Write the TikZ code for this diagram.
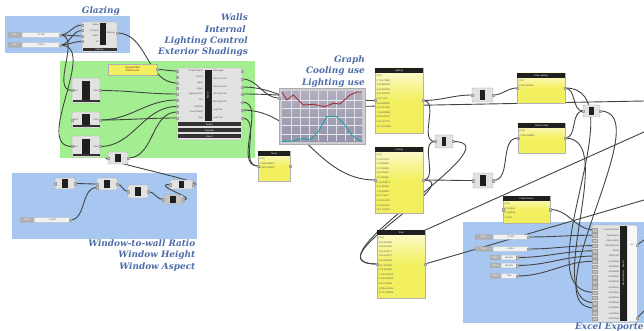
\documentclass[tikz,border=0pt]{standalone}
\usepackage{fontspec}
\newfontfamily\lblfont{DejaVu Serif}
\newfontfamily\uifont{Liberation Sans}
\pgfdeclarelayer{panels}
\pgfdeclarelayer{wires}
\pgfsetlayers{panels,wires,main}

\definecolor{paneblue}{RGB}{168,199,240}
\definecolor{panegreen}{RGB}{163,238,145}
\definecolor{noteyel}{RGB}{243,240,95}
\definecolor{grouptxt}{RGB}{78,108,168}
\definecolor{wirec}{RGB}{66,68,66}
\definecolor{compc}{RGB}{226,226,226}
\definecolor{plotc}{RGB}{150,148,170}
\definecolor{framec}{RGB}{205,205,210}
\definecolor{cooltrace}{RGB}{168,45,55}
\definecolor{lighttrace}{RGB}{35,158,165}

\newcommand\uitiny{\uifont\fontsize{2.3}{2.8}\selectfont}
\newcommand\uilist{\uifont\fontsize{2.4}{4.6}\selectfont}

\tikzset{
  grouplabel/.style={font=\lblfont\bfseries\itshape\fontsize{8.9}{10}\selectfont, text=grouptxt, inner sep=0pt},
  wire/.style={draw=wirec, line width=0.9pt},
  comp/.style={draw=gray!70, fill=compc, rounded corners=1pt, line width=0.35pt, inner sep=0pt},
  core/.style={fill=black!88, draw=none, inner sep=0pt},
  compbar/.style={fill=black!80, draw=none, inner sep=0pt, text=white, font=\uitiny},
  port/.style={fill=gray!50, draw=gray!75, line width=0.2pt, inner sep=0pt, minimum width=2.2, minimum height=2.2},
  plabel/.style={font=\uitiny, text=black!70, inner sep=0.4pt},
  notepanel/.style={draw=gray!60, line width=0.35pt, inner sep=0pt, top color=noteyel!25, bottom color=noteyel, middle color=noteyel},
  notehead/.style={fill=black!88, text=white, font=\uitiny, inner sep=0pt},
  notebody/.style={font=\uilist, text=black!65, align=left, inner sep=0pt, anchor=north west},
  sliderlab/.style={fill=gray!62, draw=gray!70, line width=0.3pt, inner sep=0pt, text=white, font=\uitiny, rounded corners=0.6pt},
  slidertrack/.style={fill=gray!10, draw=gray!55, line width=0.3pt, inner sep=0pt, rounded corners=0.8pt, font=\uitiny, text=black!75},
}

% component: [extra style] name, left, top, right, bottom
\newcommand\ghcomp[6][]{%
  \node[comp,#1, minimum width={#5-#3}, minimum height={#6-#4}] (#2) at ({(#3+#5)/2},{(#4+#6)/2}) {};
  \node[core, minimum width={(#5-#3)*0.26}, minimum height={(#6-#4)*0.74}] (#2-core) at (#2.center) {};
  \node[port] (#2-in) at (#3,{(#4+#6)/2}) {};
  \node[port] (#2-out) at (#5,{(#4+#6)/2}) {};
}
% slider: [label width] name, left, y, right, value
\newcommand\ghslider[6][13]{%
  \node[sliderlab, minimum width=#1, minimum height=4.6, anchor=west] (#2-lab) at (#3,#4) {Slider};
  \node[slidertrack, minimum width={#5-#3-#1-1}, minimum height=4.6, anchor=west] (#2) at ({#3+#1+1},#4) {#6};
  \node[port] (#2-out) at (#5,#4) {};
}
% yellow panel: name, left, top, right, bottom, title, lines
\newcommand\ghnote[7]{%
  \node[notepanel, minimum width={#4-#2}, minimum height={#5-#3}] (#1) at ({(#2+#4)/2},{(#3+#5)/2}) {};
  \node[notehead, minimum width={#4-#2}, minimum height=5, anchor=north] (#1-head) at (#1.north) {#6};
  \node[notebody] (#1-body) at ({#2+1.5},{#3+6.5}) {#7};
  \node[port] (#1-in) at (#2,{(#3+#5)/2}) {};
  \node[port] (#1-out) at (#4,{(#3+#5)/2}) {};
}

\begin{document}
\begin{tikzpicture}[x=1pt,y=-1pt]
\useasboundingbox (0,0) rectangle (644,331);

% ---------- group backgrounds ----------
\begin{pgfonlayer}{panels}
  \fill[white] (0,0) rectangle (644,331);
  \fill[paneblue] (5,16) rectangle (130,53);
  \fill[panegreen] (60,61) rectangle (255,158);
  \fill[paneblue] (12,173) rectangle (197,239);
  \fill[paneblue] (463,222) rectangle (644,323);
\end{pgfonlayer}

% ---------- group labels ----------
\node[grouplabel, anchor=base east] (lab-glazing) at (120,14) {Glazing};
\node[grouplabel, anchor=base east] (lab-walls) at (248,21) {Walls};
\node[grouplabel, anchor=base east] (lab-internal) at (246,32.5) {Internal};
\node[grouplabel, anchor=base east] (lab-lctrl) at (248,43.5) {Lighting Control};
\node[grouplabel, anchor=base east] (lab-shade) at (248,55) {Exterior Shadings};
\node[grouplabel, anchor=base east] (lab-graph) at (365,62.5) {Graph};
\node[grouplabel, anchor=base east] (lab-cool) at (365,74) {Cooling use};
\node[grouplabel, anchor=base east] (lab-light) at (365,86) {Lighting use};
\node[grouplabel, anchor=base east] (lab-wwr) at (195.5,246) {Window-to-wall Ratio};
\node[grouplabel, anchor=base east] (lab-wh) at (195.5,257.5) {Window Height};
\node[grouplabel, anchor=base east] (lab-wa) at (195.5,269) {Window Aspect};
\node[grouplabel, anchor=base west] (lab-excel) at (575,329.5) {Excel Exporter};

% ---------- glazing ----------
\ghslider{gs1}{8}{35}{60}{\textbullet\,0.300}
\ghslider{gs2}{8}{45}{60}{0.375\,\textbullet}
\node[comp, minimum width=35, minimum height=30] (gz) at (99.5,37) {};
\node[core, minimum width=6, minimum height=22] (gz-core) at (103,34) {};
\node[compbar, minimum width=34, minimum height=3.6] (gz-bar) at (99.5,49.5) {Glazing};
\foreach \yy/\tx [count=\i] in {25/Name, 30.5/U-Factor, 36/SHGC, 41.5/VT} {
  \node[port] (gz-in\i) at (82,\yy) {};
  \node[plabel, anchor=east] (gz-il\i) at (99.5,\yy) {\tx};
}
\node[port] (gz-out) at (117,33) {};
\node[plabel, anchor=west] (gz-ol) at (106.3,33) {Glazing};

% ---------- walls / internal / lighting control / shadings ----------
\node[draw=gray!60, fill=noteyel, inner sep=0pt, minimum width=49, minimum height=11, line width=0.35pt,
      font=\uitiny, text=red!55!black, align=center] (yp) at (132.5,69.5) {ExampleOffice\\OfficeZone01};
\node[port] (yp-out) at (157,69.5) {};

\ghcomp{wl1}{72}{78}{100}{103}
\ghcomp{wl2}{72}{112}{100}{128}
\ghcomp{wl3}{72}{136}{100}{157}
\ghcomp{wsel}{108}{152}{128}{164}
\node[compbar, minimum width=27, minimum height=2.6] (wl1-bar) at (86,101.2) {};
\node[compbar, minimum width=27, minimum height=2.6] (wl2-bar) at (86,126.2) {};
\node[compbar, minimum width=27, minimum height=2.6] (wl3-bar) at (86,155.2) {};
\foreach \c in {wl1,wl2,wl3} {
  \node[plabel, anchor=west] (\c-ltxt) at ([xshift=1pt]\c-in.center) {Bool};
  \node[plabel, anchor=east] (\c-rtxt) at ([xshift=-1pt]\c-out.center) {Dom};
}

% main energy model component
\node[comp, minimum width=65, minimum height=72] (bc) at (209.5,104) {};
\node[core, minimum width=7, minimum height=51] (bc-core) at (208,95.5) {};
\node[rotate=90, text=white, font=\uitiny, inner sep=0pt] (bc-title) at (208,95.5) {Export};
\node[compbar, minimum width=63, minimum height=4] (bc-bar1) at (209.5,124.5) {Export};
\node[compbar, minimum width=63, minimum height=4] (bc-bar2) at (209.5,130.5) {Simulate};
\node[compbar, minimum width=63, minimum height=4] (bc-bar3) at (209.5,136.5) {Reset};
\foreach \yy/\tx [count=\i] in {71/Project Name, 77/Floors, 83/Lights, 88.5/Equip, 94/Lighting Contr, 100/Occ, 106.5/Window, 112/Fixed Shade, 118/Geo} {
  \node[port] (bc-in\i) at (177,\yy) {};
  \node[plabel, anchor=east] (bc-il\i) at (203.5,\yy) {\tx};
}
\foreach \yy/\tx [count=\i] in {71/Messages, 79/Sim Cool Set, 87/Sim Heat Set, 94/Sim Light Set, 102/Sim Light Cal, 110/Load Set, 118/Load Cal} {
  \node[port] (bc-out\i) at (242,\yy) {};
  \node[plabel, anchor=west] (bc-ol\i) at (212.5,\yy) {\tx};
}

% ---------- window geometry ----------
\ghcomp{wn1}{55}{178}{75}{189}
\ghcomp{wn2}{97}{178}{117}{190}
\ghcomp{wn3}{128}{185}{148}{198}
\ghcomp[fill=gray!45]{wn4}{163}{195}{183}{204}
\ghcomp{wn5}{170}{180}{193}{189}
\node[port] (wn2-in2) at (97,187.5) {};
\ghslider{wsl}{20}{220}{70}{\textbullet\,0.400}

% ---------- graph ----------
\node[draw=gray!65, fill=framec, inner sep=0pt, minimum width=86, minimum height=56, line width=0.4pt] (graph) at (322,116) {};
\node[top color=plotc!75!white, bottom color=plotc, inner sep=0pt, minimum width=80, minimum height=50] (graph-plot) at (322,116.5) {};
\node[port] (graph-in) at (279,98) {};
\foreach \gx in {291,300,...,360} \draw[white!70!plotc, line width=0.3pt] (\gx,91.5) -- (\gx,141.5);
\foreach \gy in {100,108.5,...,140} \draw[white!78!plotc, line width=0.2pt] (282,\gy) -- (362,\gy);
\draw[cooltrace, line width=0.9pt, line join=round] plot coordinates {(282,92) (286.7,100) (293.3,95) (303.3,105) (313.3,104.3) (325,106.7) (333.3,103.3) (340,104) (350,95) (356.7,92) (362,92)};
\draw[lighttrace, line width=0.9pt, line join=round] plot coordinates {(282,141.5) (293.3,141) (303.3,138.3) (310,140) (318.3,131.7) (326.7,116.7) (336.7,116.7) (345,125) (351.7,135) (358.3,140) (362,141.5)};

% ---------- yellow result panels ----------
\ghnote{lit}{375}{68}{423}{133}{Lighting}{\{0;0\}\\0 76.173884\\1 90.808429\\2 54.353518\\3 83.209039\\4 61.7736\\5 86.298552\\6 61.113508\\7 86.228988\\8 83.109762\\9 81.187779\\10 76.148887}
\ghnote{cool}{375}{147}{423}{213}{Cooling}{\{0;0\}\\0 4.370178\\1 8.465585\\2 4.784359\\3 8.925233\\4 8.119965\\5 11.068871\\6 10.36148\\7 22.18896\\8 21.73876\\9 15.512879\\10 9.494176\\11 4.478824}
\ghnote{tot}{377}{230}{425}{298}{Total}{\{0;0\}\\0 80.544062\\1 99.274014\\2 59.137877\\3 92.134272\\4 69.893530\\5 97.367423\\6 71.474988\\7 108.417948\\8 104.848522\\9 96.700658\\10 85.643063\\11 74.226389}
\ghnote{yr}{258}{151}{290}{181}{Yearly}{\{0;0\}\\0 185.816800\\1 285.769985}
\ghnote{totl}{517}{73}{565}{103}{Total Lighting}{\{0;0\}\\0 925.780848}
\ghnote{totc}{518}{123}{565}{153}{Total Cooling}{\{0;0\}\\0 143.818868}
\ghnote{coln}{503}{196}{550}{223}{ColumnName}{\{0;0\}\\0 Cooling\\1 Lighting\\2 Total}

% ---------- summing components ----------
\ghcomp{sumA}{472}{88}{493}{102}
\ghcomp{sumB}{435}{135}{453}{148}
\ghcomp{sumC}{473}{173}{493}{188}
\ghcomp{sumD}{583}{105}{600}{117}

% ---------- excel exporter ----------
\ghslider[17]{es1}{475}{237}{528}{\textbullet\,1.000}
\ghslider[17]{es2}{475}{249}{528}{1.000\,\textbullet}
\ghslider[10]{ev1}{490}{257.5}{517}{Results}
\ghslider[10]{ev2}{490}{265.5}{517}{Results}
\ghslider[10]{ev3}{490}{276}{517}{True}
\node[comp, minimum width=45, minimum height=97] (exc) at (614.5,273.5) {};
\node[fill=gray!6, draw=none, inner sep=0pt, minimum width=9, minimum height=95] (exc-side) at (632,273.5) {};
\node[core, minimum width=7, minimum height=95] (exc-core) at (623.5,273.5) {};
\node[rotate=90, text=white, font=\uitiny, inner sep=0pt] (exc-title) at (623.5,273.5) {Excel Exporter \quad Export};
\foreach \i/\tx in {1/ColumnNames,2/SheetName,3/FileLocation,4/WriteToExcel,5/Active,6/ClearFirst,7/col01Data,8/col02Data,9/col03Data,10/col04Data,11/col05Data,12/col06Data,13/col07Data,14/col08Data,15/col09Data,16/col10Data,17/col11Data,18/col12Data} {
  \pgfmathsetmacro\yy{224.8+5.2*\i}
  \node[port, minimum width=4.5, minimum height=3.6] (exc-in\i) at (594.5,\yy) {};
  \node[plabel, anchor=east] (exc-il\i) at (619.5,\yy) {\tx};
}
\node[port] (exc-out1) at (637,245) {};
\node[port] (exc-out2) at (637,318) {};
\node[plabel] (exc-ol1) at (632,245) {out};

% free ends leaving the canvas
\coordinate (farbend) at (330,107);
\coordinate (farR) at (644,101);
\coordinate (farR2) at (644,200);
\coordinate (tot-src) at (392,245);
\coordinate (farR3) at (644,132);
\coordinate (farR4) at (644,240);
\coordinate (farR5) at (644,311);

% ---------- wires ----------
\begin{pgfonlayer}{wires}
  % glazing
  \draw[wire] (gs1-out.center) to[out=0,in=180] (gz-in1.center);
  \draw[wire] (gs1-out.center) to[out=0,in=180] (gz-in3.center);
  \draw[wire] (gs2-out.center) to[out=0,in=180] (gz-in2.center);
  \draw[wire] (gs2-out.center) to[out=0,in=180] (gz-in4.center);
  \draw[wire] (gs1-out.center) to[out=0,in=180] (wl1-in.center);
  \draw[wire] (gs2-out.center) to[out=0,in=180] (wl3-in.center);
  \draw[wire] (gz-out.center) to[out=0,in=180] (bc-in3.center);
  % model inputs
  \draw[wire] (yp-out.center) to[out=0,in=180] (bc-in1.center);
  \draw[wire] (wl1-out.center) to[out=0,in=180] (bc-in5.center);
  \draw[wire] (wl2-out.center) to[out=0,in=180] (bc-in6.center);
  \draw[wire] (wl2-out.center) to[out=0,in=180] (bc-in9.center);
  \draw[wire] (wl3-out.center) to[out=0,in=180] (bc-in7.center);
  \draw[wire] (wsel-out.center) to[out=0,in=180] (bc-in8.center);
  \draw[wire] (wn5-out.center) .. controls (215,184) and (90,158) .. (wsel-in.center);
  % window chain
  \draw[wire] (wn1-out.center) to[out=0,in=180] (wn2-in.center);
  \draw[wire] (wsl-out.center) to[out=0,in=180] (wn2-in2.center);
  \draw[wire] (wn2-out.center) to[out=0,in=180] (wn3-in.center);
  \draw[wire] (wn3-out.center) to[out=0,in=180] (wn4-in.center);
  \draw[wire] (wn4-out.center) .. controls (200,199.5) and (150,184.5) .. (wn5-in.center);
  % model outputs
  \draw[wire] (bc-out2.center) to[out=0,in=180] (graph-in.center);
  \draw[wire] (bc-out3.center) to[out=0,in=180] (farbend) -- (farR);
  \draw[wire] (bc-out4.center) to[out=0,in=180] (lit-in.center);
  \draw[wire] (bc-out5.center) to[out=0,in=180] (yr-in.center);
  \draw[wire] (bc-out7.center) to[out=0,in=180] (yr-in.center);
  \draw[wire] (bc-out6.center) to[out=0,in=180] (cool-in.center);
  % sums
  \draw[wire] (lit-out.center) to[out=0,in=180] (sumA-in.center);
  \draw[wire] (lit-out.center) to[out=0,in=180] (sumB-in.center);
  \draw[wire] (cool-out.center) to[out=0,in=180] (sumB-in.center);
  \draw[wire] (cool-out.center) to[out=0,in=180] (sumC-in.center);
  \draw[wire] (sumB-out.center) .. controls (520,141.5) and (300,264) .. (tot-in.center);
  \draw[wire] (cool-out.center) .. controls (470,180) and (310,264) .. (tot-in.center);
  \draw[wire] (sumA-out.center) to[out=0,in=180] (totl-in.center);
  \draw[wire] (sumC-out.center) to[out=0,in=180] (totc-in.center);
  \draw[wire] (totl-out.center) to[out=0,in=180] (sumD-in.center);
  \draw[wire] (totc-out.center) to[out=0,in=180] (sumD-in.center);
  \draw[wire] (tot-out.center) -- (farR2);
  \draw[wire] (tot-src) -- (farR3);
  % exporter inputs
  \draw[wire] (sumD-out.center) .. controls (660,111) and (530,308) .. (exc-in16.center);
  \draw[wire] (totl-out.center) .. controls (640,88) and (520,292.4) .. (exc-in13.center);
  \draw[wire] (totc-out.center) .. controls (620,138) and (540,302.8) .. (exc-in15.center);
  \draw[wire] (coln-out.center) to[out=0,in=180] (exc-in1.center);
  \draw[wire] (es1-out.center) to[out=0,in=180] (exc-in2.center);
  \draw[wire] (es2-out.center) to[out=0,in=180] (exc-in4.center);
  \draw[wire] (ev1-out.center) to[out=0,in=180] (exc-in5.center);
  \draw[wire] (ev2-out.center) to[out=0,in=180] (exc-in6.center);
  \draw[wire] (ev3-out.center) to[out=0,in=180] (exc-in7.center);
  \draw[wire] (exc-out1.center) -- (farR4);
  \draw[wire] (exc-out2.center) -- (farR5);
\end{pgfonlayer}
\end{tikzpicture}
\end{document}
